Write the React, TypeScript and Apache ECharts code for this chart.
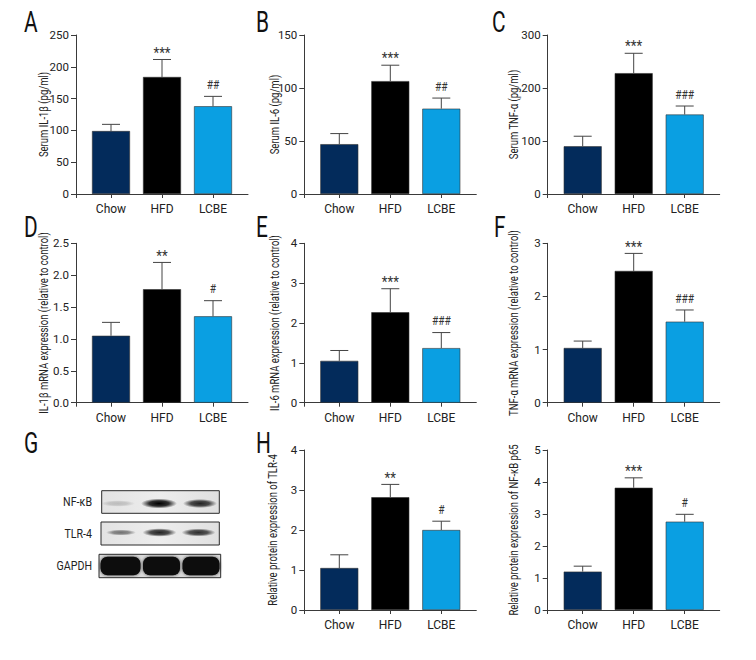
import React, { useEffect, useRef } from "react";
import * as echarts from "echarts";

// ---------- data ----------
const categories = ["Chow", "HFD", "LCBE"];

const serumIL1bMean = [99, 184, 138];
const serumIL1bErr = [10.5, 27.5, 15.5];
const serumIL1bSig = ["", "***", "##"];

const serumIL6Mean = [47, 106.5, 80.5];
const serumIL6Err = [10, 15, 10];
const serumIL6Sig = ["", "***", "##"];

const serumTNFMean = [90, 228, 150];
const serumTNFErr = [19, 37.5, 16];
const serumTNFSig = ["", "***", "###"];

const il1bMrnaMean = [1.05, 1.78, 1.355];
const il1bMrnaErr = [0.21, 0.42, 0.245];
const il1bMrnaSig = ["", "**", "#"];

const il6MrnaMean = [1.05, 2.27, 1.37];
const il6MrnaErr = [0.26, 0.59, 0.39];
const il6MrnaSig = ["", "***", "###"];

const tnfMrnaMean = [1.03, 2.48, 1.525];
const tnfMrnaErr = [0.13, 0.33, 0.22];
const tnfMrnaSig = ["", "***", "###"];

const tlr4ProteinMean = [1.05, 2.82, 2.0];
const tlr4ProteinErr = [0.33, 0.32, 0.22];
const tlr4ProteinSig = ["", "**", "#"];

const nfkbProteinMean = [1.2, 3.82, 2.76];
const nfkbProteinErr = [0.17, 0.31, 0.23];
const nfkbProteinSig = ["", "***", "#"];

const blotRows = ["NF-κB", "TLR-4", "GAPDH"];
// band darkness per lane (0..1)
const blotNFkB = [0.18, 1, 0.85];
const blotTLR4 = [0.5, 0.85, 0.8];
const blotGAPDH = [1, 1, 1];

// ---------- styles ----------
const FONT = "Roboto, 'Liberation Sans', sans-serif";
const barColors = ["#032b5b", "#000000", "#0a9fe2"];
const axisColor = "#3a3a3a";
const errColor = "#444";
const NAME_SCALE = 0.76;
const LETTER_SCALE = 0.72;

type Panel = {
  letter?: string;
  letterX?: number;
  letterY?: number;
  left: number;
  top: number;
  zero: number;
  max: number;
  interval: number;
  decimals: number;
  name: string;
  nameX: number;
  mean: number[];
  err: number[];
  sig: string[];
};

const panels: Panel[] = [
  { letter: "A", letterX: 24, letterY: 8, left: 76, top: 35, zero: 194, max: 250, interval: 50, decimals: 0, name: "Serum IL-1β (pg/ml)", nameX: 44, mean: serumIL1bMean, err: serumIL1bErr, sig: serumIL1bSig },
  { letter: "B", letterX: 256, letterY: 8, left: 304.3, top: 35, zero: 194, max: 150, interval: 50, decimals: 0, name: "Serum IL-6 (pg/ml)", nameX: 275.5, mean: serumIL6Mean, err: serumIL6Err, sig: serumIL6Sig },
  { letter: "C", letterX: 492, letterY: 8, left: 547.7, top: 35, zero: 194, max: 300, interval: 100, decimals: 0, name: "Serum TNF-α (pg/ml)", nameX: 514.5, mean: serumTNFMean, err: serumTNFErr, sig: serumTNFSig },
  { letter: "D", letterX: 24, letterY: 213, left: 76, top: 243.3, zero: 402.7, max: 2.5, interval: 0.5, decimals: 1, name: "IL-1β mRNA expression (relative to control)", nameX: 44, mean: il1bMrnaMean, err: il1bMrnaErr, sig: il1bMrnaSig },
  { letter: "E", letterX: 256, letterY: 213, left: 304.3, top: 243.3, zero: 402.7, max: 4, interval: 1, decimals: 0, name: "IL-6 mRNA expression (relative to control)", nameX: 275.5, mean: il6MrnaMean, err: il6MrnaErr, sig: il6MrnaSig },
  { letter: "F", letterX: 494, letterY: 213, left: 547.7, top: 243.3, zero: 402.7, max: 3, interval: 1, decimals: 0, name: "TNF-α mRNA expression (relative to control)", nameX: 514.5, mean: tnfMrnaMean, err: tnfMrnaErr, sig: tnfMrnaSig },
  { letter: "H", letterX: 256, letterY: 429, left: 304.3, top: 450, zero: 610, max: 4, interval: 1, decimals: 0, name: "Relative protein expression of TLR-4", nameX: 273, mean: tlr4ProteinMean, err: tlr4ProteinErr, sig: tlr4ProteinSig },
  { left: 547.7, top: 450, zero: 610, max: 5, interval: 1, decimals: 0, name: "Relative protein expression of NF-κB p65", nameX: 514.5, mean: nfkbProteinMean, err: nfkbProteinErr, sig: nfkbProteinSig },
];

const AXIS_W = 172;
const SIDE = 35 / 51; // gap between axis ends and first/last bar centre, in category units

function buildOption() {
  const grid: any[] = [];
  const xAxis: any[] = [];
  const yAxis: any[] = [];
  const series: any[] = [];
  const graphic: any[] = [];

  panels.forEach((p, k) => {
    grid.push({ left: p.left, top: p.top, width: AXIS_W, height: p.zero - p.top, containLabel: false });
    xAxis.push({
      type: "value",
      gridIndex: k,
      min: -SIDE,
      max: 2 + SIDE,
      splitLine: { show: false },
      axisTick: { show: true, customValues: [-SIDE, 0, 1, 2], length: 4, lineStyle: { color: axisColor } },
      axisLine: { show: true, onZero: false, lineStyle: { color: axisColor, width: 1 } },
      axisLabel: {
        customValues: [0, 1, 2],
        formatter: (v: number) => categories[Math.round(v)] ?? "",
        fontFamily: FONT,
        fontSize: 12,
        color: "#222",
        margin: 9,
      },
    });
    yAxis.push({
      type: "value",
      gridIndex: k,
      min: 0,
      max: p.max,
      interval: p.interval,
      splitLine: { show: false },
      axisLine: { show: true, onZero: false, lineStyle: { color: axisColor, width: 1 } },
      axisTick: { show: true, length: 5, lineStyle: { color: axisColor } },
      axisLabel: {
        fontFamily: FONT,
        fontSize: 11.5,
        color: "#222",
        margin: 7,
        formatter: (v: number) => v.toFixed(p.decimals),
      },
    });
    series.push({
      type: "bar",
      xAxisIndex: k,
      yAxisIndex: k,
      barWidth: 38,
      data: p.mean.map((v, i) => ({
        value: [i, v],
        itemStyle: { color: barColors[i], borderColor: "#333", borderWidth: 0.6 },
      })),
    });
    const sig = p.sig;
    series.push({
      type: "custom",
      xAxisIndex: k,
      yAxisIndex: k,
      encode: { x: 0, y: 1 },
      z: 5,
      itemStyle: { color: "#333" },
      data: p.mean.map((v, i) => [i, v, p.err[i]]),
      renderItem: (params: any, api: any) => {
        const i = api.value(0);
        const m = api.value(1);
        const e = api.value(2);
        const base = api.coord([i, m]);
        const top = api.coord([i, m + e]);
        const half = 9;
        const s = sig[params.dataIndex] || "";
        const isStar = s.indexOf("*") >= 0;
        return {
          type: "group",
          children: [
            { type: "line", shape: { x1: base[0], y1: base[1], x2: top[0], y2: top[1] }, style: { stroke: errColor, lineWidth: 1 } },
            { type: "line", shape: { x1: top[0] - half, y1: top[1], x2: top[0] + half, y2: top[1] }, style: { stroke: errColor, lineWidth: 1 } },
            {
              type: "text",
              x: top[0],
              y: top[1] - (isStar ? 0 : 5),
              scaleX: isStar ? 0.95 : 0.85,
              style: { text: s, align: "center", verticalAlign: "bottom", fontFamily: FONT, fontSize: isStar ? 14 : 12, fill: "#333" },
            },
          ],
        };
      },
    });
    // rotated y-axis title
    graphic.push({
      type: "text",
      x: p.nameX,
      y: (p.top + p.zero) / 2,
      rotation: Math.PI / 2,
      scaleX: NAME_SCALE,
      style: { text: p.name, align: "center", verticalAlign: "middle", fontFamily: FONT, fontSize: 12.5, fill: "#222" },
    });
    if (p.letter) {
      graphic.push({
        type: "text",
        x: p.letterX,
        y: p.letterY,
        scaleX: LETTER_SCALE,
        style: { text: p.letter, fontFamily: FONT, fontSize: 29, fill: "#111", verticalAlign: "top" },
      });
    }
  });

  // Panel G: western blot
  graphic.push({ type: "text", x: 24, y: 429, scaleX: LETTER_SCALE, style: { text: "G", fontFamily: FONT, fontSize: 29, fill: "#111", verticalAlign: "top" } });

  const boxes = [
    { x: 101.7, y: 490.7, w: 117.6, h: 22.6, cy: 503.5, bands: blotNFkB, lanes: [118, 159, 200], rx: [17, 18, 17], ry: [3.2, 5, 4.5] },
    { x: 101, y: 522, w: 118.3, h: 23, cy: 532.5, bands: blotTLR4, lanes: [121, 159.5, 198.5], rx: [15, 17, 17], ry: [3, 4.2, 4] },
  ];
  const gapdh = { x: 99, y: 554.3, w: 121.7, h: 23.4, lanes: [[100.5, 140.5], [143, 180], [182.5, 219.5]] };

  const boxFill = () =>
    new echarts.graphic.LinearGradient(0, 0, 1, 0, [
      { offset: 0, color: "#e3e3e3" },
      { offset: 0.5, color: "#ededed" },
      { offset: 1, color: "#e0e0e0" },
    ]);

  boxes.forEach((b) => {
    graphic.push({
      type: "rect",
      shape: { x: b.x, y: b.y, width: b.w, height: b.h },
      style: { fill: boxFill(), stroke: "#2a2a2a", lineWidth: 1 },
      z: 1,
    });
    b.bands.forEach((a, l) => {
      graphic.push({
        type: "ellipse",
        shape: { cx: b.lanes[l], cy: b.cy, rx: b.rx[l], ry: b.ry[l] },
        style: {
          fill: new echarts.graphic.RadialGradient(0.5, 0.5, 0.5, [
            { offset: 0, color: `rgba(0,0,0,${a})` },
            { offset: 0.55, color: `rgba(0,0,0,${a * 0.8})` },
            { offset: 1, color: "rgba(0,0,0,0)" },
          ]),
        },
        z: 2,
      });
    });
  });

  graphic.push({
    type: "rect",
    shape: { x: gapdh.x, y: gapdh.y, width: gapdh.w, height: gapdh.h },
    style: { fill: "#d8d8d8", stroke: "#2a2a2a", lineWidth: 1 },
    z: 1,
  });
  blotGAPDH.forEach((a, l) => {
    const [x0, x1] = gapdh.lanes[l];
    graphic.push({
      type: "rect",
      shape: { x: x0, y: gapdh.y + 2.5, width: x1 - x0, height: gapdh.h - 5, r: 7 },
      style: {
        fill: `rgba(8,8,8,${a})`,
        shadowBlur: 3,
        shadowColor: "rgba(0,0,0,0.7)",
      },
      z: 2,
    });
  });

  const labelYs = [boxes[0].y + boxes[0].h / 2, boxes[1].y + boxes[1].h / 2, gapdh.y + gapdh.h / 2];
  blotRows.forEach((t, r) => {
    graphic.push({
      type: "text",
      x: 92,
      y: labelYs[r],
      scaleX: 0.85,
      style: { text: t, align: "right", verticalAlign: "middle", fontFamily: FONT, fontSize: 12.5, fill: "#222" },
      z: 3,
    });
  });

  return {
    animation: false,
    backgroundColor: "#ffffff",
    grid,
    xAxis,
    yAxis,
    series,
    graphic,
  };
}

export default function App() {
  const ref = useRef<HTMLDivElement>(null);
  useEffect(() => {
    if (!ref.current) return;
    const chart = echarts.init(ref.current, undefined, { renderer: "svg" });
    chart.setOption(buildOption() as any);
    return () => chart.dispose();
  }, []);
  return (
    <div
      ref={ref}
      style={{ position: "fixed", left: 0, top: 0, width: 756, height: 660, background: "#fff" }}
    />
  );
}
